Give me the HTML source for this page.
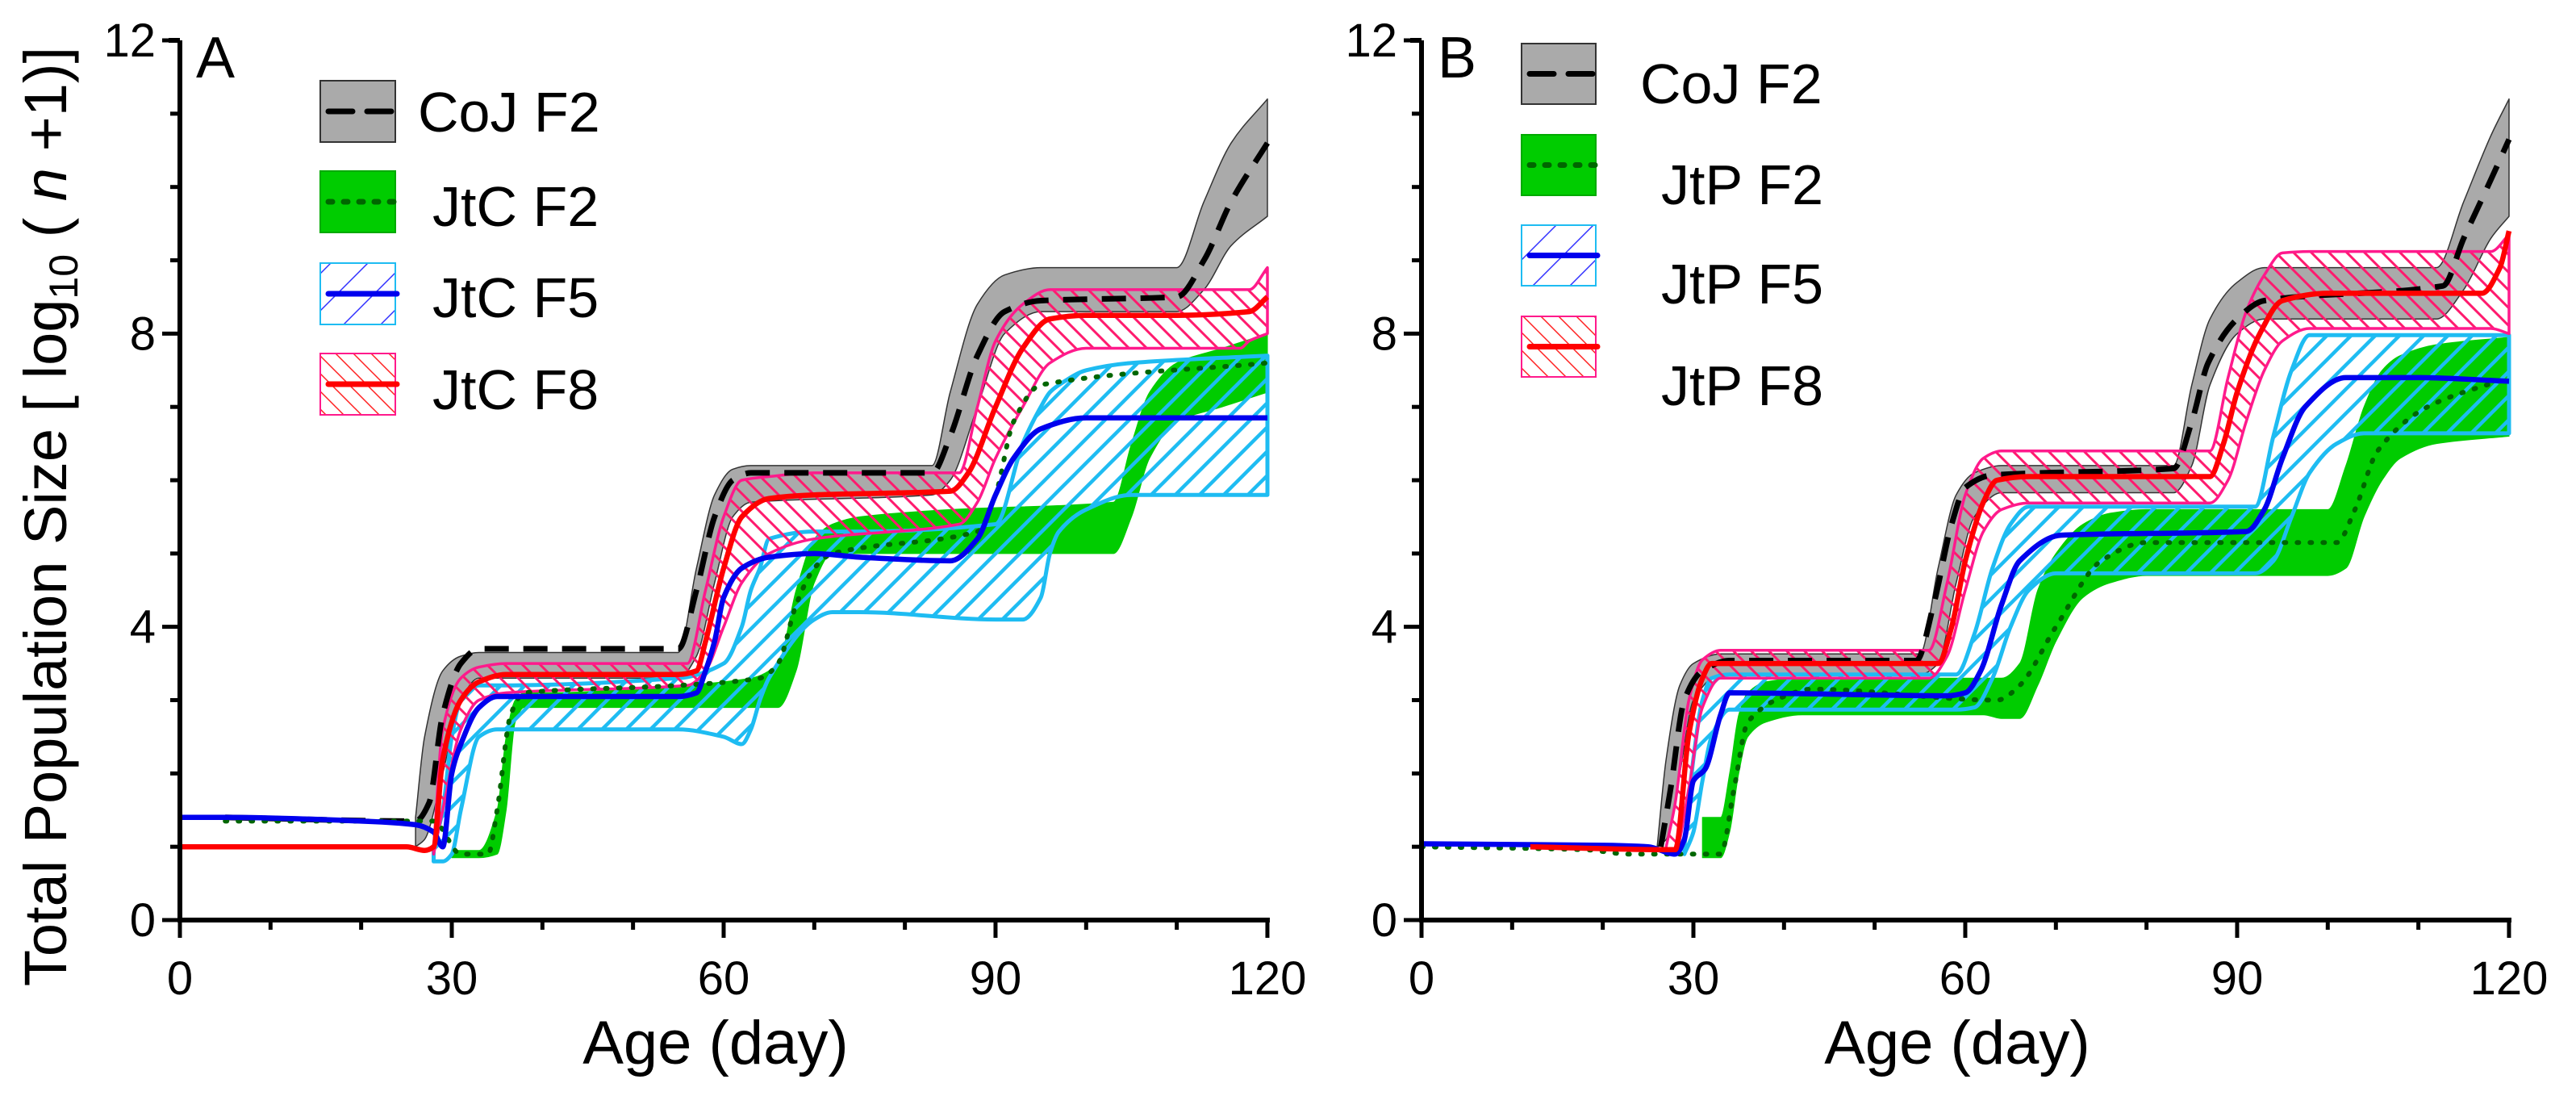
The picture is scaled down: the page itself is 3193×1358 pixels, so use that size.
<!DOCTYPE html>
<html><head><meta charset="utf-8"><style>
html,body{margin:0;padding:0;background:#fff;}
svg{display:block;font-family:"Liberation Sans",Arial,sans-serif;}
</style></head><body>
<svg id="chart" width="3193" height="1358" viewBox="0 0 3193 1358" xmlns="http://www.w3.org/2000/svg">
<defs>
<pattern id="hatchCyan" patternUnits="userSpaceOnUse" width="30" height="30"><path d="M-5,5 L5,-5 M0,30 L30,0 M25,35 L35,25" stroke="#1ebcf2" stroke-width="4.5"/></pattern>
<pattern id="hatchPink" patternUnits="userSpaceOnUse" width="22" height="22"><path d="M-5,17 L5,27 M0,0 L22,22 M17,-5 L27,5" stroke="#ff1a6e" stroke-width="3"/></pattern>
<pattern id="legBlue" patternUnits="userSpaceOnUse" width="46" height="46"><path d="M0,46 L46,0 M-10,10 L10,-10 M36,56 L56,36" stroke="#3030ff" stroke-width="1.5"/></pattern>
<pattern id="legRed" patternUnits="userSpaceOnUse" width="22" height="22"><path d="M0,0 L22,22 M-5,17 L5,27 M17,-5 L27,5" stroke="#ff2020" stroke-width="1.5"/></pattern>
</defs>
<g id="panelA"></g>
<g id="panelB"></g>
<text transform="translate(82,640) rotate(-90)" text-anchor="middle" font-size="74">Total Population Size [ log<tspan font-size="50" dy="14">10</tspan><tspan dy="-14"> ( </tspan><tspan font-style="italic">n</tspan> +1)]</text>
</svg>
<script>
// ---------- Panel A data ----------
const aCoJLineDays = [5,26,27.5,29,31,33,55,57,59,61,63,83,85,88,91,95,110,113,116,120];
const aCoJLine = [1.4,1.35,1.6,2.8,3.5,3.7,3.7,4.5,5.5,6.0,6.1,6.1,6.6,7.7,8.3,8.45,8.5,9.0,9.8,10.6];
const aCoJBandDays = [26,27,29,31,33,55,57,59,61,63,83,85,88,91,95,110,113,116,120];
const aCoJHi = [1.4,2.5,3.4,3.6,3.65,3.65,4.8,5.8,6.15,6.2,6.2,7.2,8.4,8.8,8.9,8.9,9.8,10.6,11.2];
const aCoJLo = [1.0,1.1,2.0,3.0,3.3,3.3,3.6,4.6,5.5,5.7,5.8,6.0,7.0,8.0,8.3,8.3,8.6,9.2,9.6];

const aF2LineDays = [5,28,31,34,35,36.5,38,55,64,66,68,70,72,88,90,92,95,120];
const aF2Line = [1.35,1.35,0.9,0.9,1.5,2.8,3.1,3.2,3.3,3.5,4.3,4.8,5.0,5.3,5.8,6.8,7.3,7.6];
const aF2BandDays = [30,33,35,36,37,38,40,55,63,66,68,70,72,75,85,103,105,107,110,115,120];
const aF2Hi = [0.95,0.95,1.5,2.5,3.0,3.1,3.1,3.2,3.3,3.5,4.5,5.2,5.4,5.5,5.6,5.7,6.5,7.2,7.6,7.8,8.0];
const aF2Lo = [0.85,0.85,0.9,1.5,2.7,2.9,2.9,2.9,2.9,2.9,3.4,4.6,5.0,5.0,5.0,5.0,5.5,6.3,6.8,7.0,7.2];

const aF5LineDays = [0,5,20,26,28,29,30,31,33,35,55,57,58,59,60,62,65,70,75,85,88,90,92,95,100,110,120];
const aF5Line = [1.4,1.4,1.35,1.3,1.2,1.0,2.0,2.4,2.9,3.05,3.05,3.1,3.4,3.8,4.4,4.8,4.95,5.0,4.95,4.9,5.2,5.8,6.3,6.7,6.85,6.85,6.85];
const aF5BandDays = [28,29,30,31,33,35,55,60,62,63,64,65,70,72,75,90,93,95,96,97,100,105,120];
const aF5Hi = [1.0,1.5,2.5,3.0,3.2,3.2,3.3,3.5,4.0,4.5,4.8,5.2,5.3,5.3,5.3,5.4,6.5,7.0,7.2,7.3,7.5,7.6,7.7];
const aF5Lo = [0.8,0.8,0.9,1.5,2.5,2.6,2.6,2.5,2.4,2.6,3.0,3.3,4.1,4.2,4.2,4.1,4.1,4.4,5.0,5.3,5.6,5.8,5.8];

const aF8LineDays = [0,25,27,28,29,31,33,36,55,57,58,60,62,65,70,85,87,90,93,96,100,110,118,120];
const aF8Line = [1.0,1.0,0.95,1.0,2.2,3.0,3.25,3.35,3.35,3.4,3.8,4.8,5.5,5.75,5.8,5.85,6.1,7.0,7.8,8.2,8.25,8.25,8.3,8.5];
const aF8BandDays = [28,29,31,33,36,56,58,60,62,65,70,86,88,90,93,96,100,117,118,120];
const aF8Hi = [1.0,2.6,3.3,3.45,3.5,3.5,4.5,5.5,6.0,6.05,6.1,6.1,7.0,7.9,8.4,8.6,8.6,8.6,8.6,8.9];
const aF8Lo = [0.9,1.5,2.6,3.0,3.1,3.2,3.4,4.0,4.6,5.0,5.2,5.4,5.7,6.3,7.0,7.6,7.8,7.8,7.9,8.0];

// ---------- Panel B data ----------
const bCoJLineDays = [26.4,27.5,29,31,34,54.6,56.5,58.5,60,63,83,85,86.8,90,93,112.7,115,118,120];
const bCoJLine = [1.0,1.8,3.0,3.4,3.54,3.54,4.3,5.4,5.9,6.07,6.16,6.8,7.6,8.2,8.45,8.65,9.3,10.1,10.65];
const bCoJBandDays = [26,27,28.5,30,33,55,57,59,61,64,83,85,87,90,93,112,115,118,120];
const bCoJHi = [1.0,2.2,3.2,3.5,3.63,3.63,4.8,5.8,6.1,6.2,6.2,7.3,8.2,8.7,8.9,8.9,9.8,10.7,11.2];
const bCoJLo = [1.0,1.1,2.0,3.0,3.35,3.35,3.5,4.6,5.5,5.83,5.83,6.2,7.3,8.0,8.2,8.2,8.6,9.3,9.6];

const bF2LineDays = [0,18,23,33,34.5,36,40,43,63.5,66,70,75,80,101,103,105.5,111,120];
const bF2Line = [1.0,0.96,0.9,0.9,1.8,2.7,3.05,3.15,3.0,3.2,4.0,4.9,5.15,5.15,5.6,6.4,7.0,7.4];
const bF2BandDays = [31,33,34,35,36,38,42,62,64,66,68,70,73,76,80,100,102,104,106,108,112,120];
const bF2Hi = [1.4,1.4,2.0,2.8,3.1,3.25,3.3,3.3,3.3,3.5,4.5,5.0,5.4,5.55,5.6,5.6,6.2,7.0,7.5,7.7,7.85,7.95];
const bF2Lo = [0.85,0.85,1.2,2.0,2.5,2.7,2.8,2.8,2.75,2.75,3.2,3.8,4.4,4.6,4.7,4.7,4.8,5.5,6.0,6.3,6.5,6.6];

const bF5LineDays = [0,20,25,28,29,30,31.3,33,34,58,60,61.7,64,66,70.6,91,93,95,97.5,102,110,120];
const bF5Line = [1.04,1.02,1.0,0.9,1.1,1.9,2.06,2.8,3.1,3.06,3.1,3.4,4.3,4.9,5.25,5.3,5.6,6.3,7.0,7.4,7.4,7.35];
const bF5BandDays = [29,30,31,32,34,59,61,63,65,67,70,92,94,96,98,101,104,120];
const bF5Hi = [1.0,2.2,3.0,3.3,3.35,3.35,3.9,4.8,5.4,5.64,5.64,5.64,6.6,7.5,7.98,7.98,7.98,7.98];
const bF5Lo = [0.9,1.2,1.9,2.5,2.87,2.87,2.9,3.3,4.0,4.5,4.73,4.73,4.9,5.5,6.1,6.5,6.64,6.64];

const bF8LineDays = [12,27,28,29.5,31,32,35,57,58.5,60,62,63.5,67,87,88.5,90,92.5,95,100,117,119,120];
const bF8Line = [1.0,0.96,0.96,2.54,3.3,3.5,3.5,3.5,4.0,4.9,5.7,6.0,6.05,6.05,6.5,7.2,8.0,8.45,8.55,8.55,8.9,9.4];
const bF8BandDays = [27,28,29.5,31,33,36,56,58,60,62,64,67,87,89,91,93,95,98,118,120];
const bF8Hi = [1.0,1.6,3.0,3.55,3.68,3.68,3.68,4.6,5.8,6.3,6.4,6.4,6.4,7.4,8.3,8.8,9.1,9.12,9.12,9.35];
const bF8Lo = [0.95,0.95,1.8,2.9,3.3,3.3,3.3,3.6,4.5,5.3,5.6,5.69,5.69,6.0,6.8,7.5,7.9,8.07,8.07,8.0];

const xTicks = [0,30,60,90,120];
const yTicks = [0,4,8,12];
const legendA = ["CoJ F2","JtC F2","JtC F5","JtC F8"];
const legendB = ["CoJ F2","JtP F2","JtP F5","JtP F8"];

const NS = "http://www.w3.org/2000/svg";
const Y0 = 1140, PXV = 90.83, PXD = 11.233;
function yS(v){ return Y0 - v*PXV; }

function mk(tag, attrs, parent){
  const e = document.createElementNS(NS, tag);
  for (const k in attrs) e.setAttribute(k, attrs[k]);
  parent.appendChild(e);
  return e;
}

function monoPath(pts, moveFirst){
  const n = pts.length;
  const d = [], m = [];
  for (let i=0;i<n-1;i++){ const h = pts[i+1][0]-pts[i][0]; d.push(h===0?0:(pts[i+1][1]-pts[i][1])/h); }
  for (let i=0;i<n;i++){
    if (i===0) m.push(d[0]); else if (i===n-1) m.push(d[n-2]);
    else m.push(d[i-1]*d[i]<=0 ? 0 : 2/(1/d[i-1]+1/d[i]));
  }
  let s = (moveFirst?"M":"L") + pts[0][0].toFixed(1)+","+pts[0][1].toFixed(1);
  for (let i=0;i<n-1;i++){
    const h = pts[i+1][0]-pts[i][0];
    const c1x = pts[i][0]+h/3, c1y = pts[i][1]+m[i]*h/3;
    const c2x = pts[i+1][0]-h/3, c2y = pts[i+1][1]-m[i+1]*h/3;
    s += " C"+c1x.toFixed(1)+","+c1y.toFixed(1)+" "+c2x.toFixed(1)+","+c2y.toFixed(1)+" "+pts[i+1][0].toFixed(1)+","+pts[i+1][1].toFixed(1);
  }
  return s;
}

function drawPanel(g, x0, label, legend, S){
  const xS = d => x0 + d*PXD;
  const toPts = (days, vals) => days.map((dd,i)=>[xS(dd), yS(vals[i])]);
  function band(days, lo, hi, fill, stroke, sw, name){
    const up = toPts(days, hi);
    const dn = toPts(days, lo).reverse();
    const p = monoPath(up,true)+" "+monoPath(dn,false)+" Z";
    const el = mk("path",{d:p, fill:fill, stroke:stroke, "stroke-width":sw, "stroke-linejoin":"round"}, g);
    
    
  }
  function line(days, vals, stroke, sw, dash, name, cap){
    const el = mk("path",{d:monoPath(toPts(days,vals),true), fill:"none", stroke:stroke, "stroke-width":sw, "stroke-dasharray":dash, "stroke-linecap":cap||"butt", "stroke-linejoin":"round"}, g);
    
    
  }
  band(S.cojD, S.cojLo, S.cojHi, "#aaaaaa", "#333", 1.5, "coj-f2-band");
  band(S.f2D, S.f2Lo, S.f2Hi, "#00cc00", "#00cc00", 1, "f2-band");
  band(S.f5D, S.f5Lo, S.f5Hi, "url(#hatchCyan)", "#1ebcf2", 5, "f5-band");
  band(S.f8D, S.f8Lo, S.f8Hi, "url(#hatchPink)", "#ff1a8c", 3.5, "f8-band");
  line(S.cojLD, S.cojL, "#000", 7, "30,18", "coj-f2-line");
  line(S.f2LD, S.f2L, "#006600", 6, "2,14", "f2-line", "round");
  line(S.f5LD, S.f5L, "#0000ee", 6.5, "none", "f5-line");
  line(S.f8LD, S.f8L, "#ff0000", 6.5, "none", "f8-line");

  let e = mk("line",{x1:x0,y1:50,x2:x0,y2:Y0+3,stroke:"#000","stroke-width":6},g);
   
  e = mk("line",{x1:x0-3,y1:Y0,x2:x0+120*PXD+3,y2:Y0,stroke:"#000","stroke-width":6},g);
   
  mk("line",{x1:x0-14,y1:50,x2:x0,y2:50,stroke:"#000","stroke-width":6},g);
  for (let v=0; v<=12; v++){
    const major = v%4===0;
    mk("line",{x1:x0-(major?22:12),y1:yS(v),x2:x0,y2:yS(v),stroke:"#000","stroke-width":5},g);
  }
  for (let dd=0; dd<=120; dd+=10){
    const major = dd%30===0;
    mk("line",{x1:xS(dd),y1:Y0,x2:xS(dd),y2:Y0+(major?22:12),stroke:"#000","stroke-width":5},g);
  }
  yTicks.forEach(v=>{
    const t = mk("text",{x:x0-30,y:yS(v)+20,"text-anchor":"end","font-size":58},g);
    t.textContent = v;
    
    
  });
  xTicks.forEach(dd=>{
    const t = mk("text",{x:xS(dd),y:1232,"text-anchor":"middle","font-size":58},g);
    t.textContent = dd;
    
    
  });
  let t = mk("text",{x:x0+60*PXD-10,y:1318,"text-anchor":"middle","font-size":76},g);
  t.textContent = "Age (day)";
  
  
  t = mk("text",{x:x0+20,y:96,"font-size":72},g);
  t.textContent = label;
  
  

  const L = S.leg;
  const fills = ["#aaaaaa","#00cc00","url(#legBlue)","url(#legRed)"];
  const strokes = ["#333","#00aa00","#1ebcf2","#ff1a8c"];
  const lc = ["#000","#006600","#0000ee","#ff0000"];
  const ld = ["30,18","5,14","none","none"];
  legend.forEach((name,i)=>{
    const lg = mk("g",{},g);
    
    
    const by = L.boxY[i];
    mk("rect",{x:L.bx,y:by,width:L.bw,height:L.bh,fill:fills[i],stroke:strokes[i],"stroke-width":2},lg);
    mk("line",{x1:L.bx+10,y1:by+L.bh/2,x2:L.bx+L.bw+2,y2:by+L.bh/2,stroke:lc[i],"stroke-width":7,"stroke-dasharray":ld[i],"stroke-linecap":"round"},lg);
    const tx = mk("text",{x:L.tx[i],y:L.ty[i],"font-size":70},lg);
    tx.textContent = name;
  });
}

drawPanel(document.getElementById("panelA"), 223, "A", legendA, {
  cojD:aCoJBandDays,cojLo:aCoJLo,cojHi:aCoJHi,cojLD:aCoJLineDays,cojL:aCoJLine,
  f2D:aF2BandDays,f2Lo:aF2Lo,f2Hi:aF2Hi,f2LD:aF2LineDays,f2L:aF2Line,
  f5D:aF5BandDays,f5Lo:aF5Lo,f5Hi:aF5Hi,f5LD:aF5LineDays,f5L:aF5Line,
  f8D:aF8BandDays,f8Lo:aF8Lo,f8Hi:aF8Hi,f8LD:aF8LineDays,f8L:aF8Line,
  leg:{bx:397,bw:93,bh:76,boxY:[100,212,326,438],tx:[518,536,536,536],ty:[163,280,393,507]}
});
drawPanel(document.getElementById("panelB"), 1762, "B", legendB, {
  cojD:bCoJBandDays,cojLo:bCoJLo,cojHi:bCoJHi,cojLD:bCoJLineDays,cojL:bCoJLine,
  f2D:bF2BandDays,f2Lo:bF2Lo,f2Hi:bF2Hi,f2LD:bF2LineDays,f2L:bF2Line,
  f5D:bF5BandDays,f5Lo:bF5Lo,f5Hi:bF5Hi,f5LD:bF5LineDays,f5L:bF5Line,
  f8D:bF8BandDays,f8Lo:bF8Lo,f8Hi:bF8Hi,f8LD:bF8LineDays,f8L:bF8Line,
  leg:{bx:1886,bw:92,bh:75,boxY:[54,167,279,392],tx:[2033,2059,2059,2059],ty:[128,253,376,502]}
});
</script>
</body></html>
